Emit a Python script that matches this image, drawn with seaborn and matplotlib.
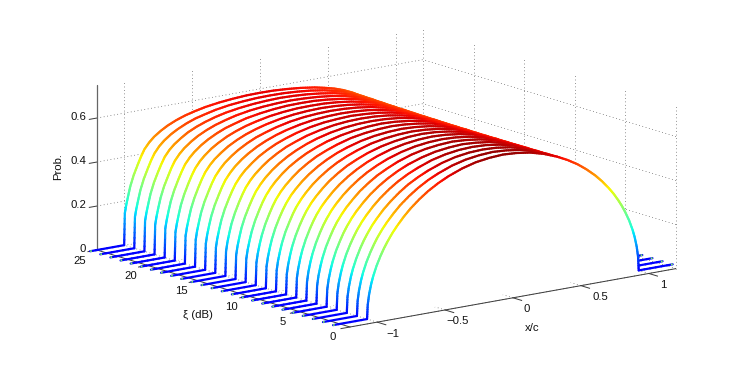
import numpy as np
import matplotlib
matplotlib.use("Agg")
import matplotlib.pyplot as plt
from matplotlib.colors import Normalize
from mpl_toolkits.mplot3d import proj3d
from mpl_toolkits.mplot3d.art3d import Line3DCollection, Poly3DCollection
import seaborn as sns

# ---- data ----
xi_levels = list(range(1, 26))
x_half = [0, .1, .2, .3, .4, .475, .55, .615, .68, .73, .78, .815, .85, .875, .9, .93, .955, .97, .985, .995]
# height of each arch (xi = 1..25) at each |x/c| in x_half
h_x000 = [.637,.635,.632,.630,.628,.626,.623,.621,.619,.616,.614,.612,.610,.607,.605,.603,.600,.598,.596,.593,.591,.589,.587,.584,.582]
h_x010 = [.633,.631,.629,.627,.624,.622,.620,.618,.616,.613,.611,.609,.607,.605,.603,.600,.598,.596,.594,.592,.590,.587,.585,.583,.581]
h_x020 = [.624,.622,.620,.618,.616,.614,.612,.610,.608,.606,.604,.602,.600,.599,.597,.595,.593,.591,.589,.587,.585,.583,.581,.579,.577]
h_x030 = [.607,.606,.604,.603,.601,.600,.598,.597,.595,.594,.592,.591,.589,.588,.586,.585,.583,.582,.580,.579,.577,.576,.574,.573,.571]
h_x040 = [.583,.582,.581,.580,.580,.579,.578,.577,.576,.575,.574,.573,.573,.572,.571,.570,.569,.568,.567,.566,.566,.565,.564,.563,.562]
h_x0475 = [.560,.560,.559,.559,.559,.558,.558,.558,.557,.557,.557,.556,.556,.556,.555,.555,.555,.554,.554,.554,.553,.553,.553,.552,.552]
h_x055 = [.532,.532,.533,.533,.533,.534,.534,.534,.535,.535,.535,.536,.536,.536,.537,.537,.537,.538,.538,.538,.539,.539,.539,.540,.540]
h_x0615 = [.502,.503,.504,.505,.506,.507,.508,.509,.510,.511,.512,.513,.514,.515,.516,.517,.518,.519,.520,.521,.522,.523,.524,.525,.526]
h_x068 = [.467,.469,.470,.472,.474,.476,.477,.479,.481,.482,.484,.486,.488,.489,.491,.493,.494,.496,.498,.499,.501,.503,.505,.506,.508]
h_x073 = [.435,.437,.440,.442,.444,.446,.449,.451,.453,.456,.458,.460,.463,.465,.467,.469,.472,.474,.476,.479,.481,.483,.485,.488,.490]
h_x078 = [.398,.401,.404,.407,.410,.413,.416,.418,.421,.424,.427,.430,.433,.436,.439,.442,.445,.448,.451,.453,.456,.459,.462,.465,.468]
h_x0815 = [.369,.372,.376,.379,.382,.385,.389,.392,.395,.398,.402,.405,.408,.411,.415,.418,.421,.424,.428,.431,.434,.437,.441,.444,.447]
h_x085 = [.335,.339,.342,.346,.349,.353,.356,.360,.363,.367,.370,.374,.377,.381,.385,.388,.392,.395,.399,.402,.406,.409,.413,.416,.420]
h_x0875 = [.308,.311,.315,.318,.322,.325,.329,.332,.335,.339,.342,.346,.349,.352,.356,.359,.363,.366,.370,.373,.376,.380,.383,.387,.390]
h_x090 = [.277,.280,.284,.287,.290,.293,.297,.300,.303,.306,.310,.313,.316,.319,.323,.326,.329,.332,.336,.339,.342,.345,.349,.352,.355]
h_x093 = [.234,.237,.240,.244,.247,.250,.253,.256,.259,.263,.266,.269,.272,.275,.278,.282,.285,.288,.291,.294,.297,.301,.304,.307,.310]
h_x0955 = [.189,.192,.195,.198,.201,.204,.207,.210,.213,.216,.219,.222,.225,.229,.232,.235,.238,.241,.244,.247,.250,.253,.256,.259,.262]
h_x097 = [.155,.158,.161,.163,.166,.169,.172,.175,.177,.180,.183,.186,.188,.191,.194,.197,.200,.202,.205,.208,.211,.214,.216,.219,.222]
h_x0985 = [.110,.113,.116,.119,.122,.125,.128,.130,.133,.136,.139,.142,.145,.148,.151,.154,.157,.160,.163,.165,.168,.171,.174,.177,.180]
h_x0995 = [.064,.067,.071,.074,.078,.081,.084,.088,.091,.094,.098,.101,.105,.108,.111,.115,.118,.121,.125,.128,.132,.135,.138,.142,.145]
x_edge = 1.0      # arch foot
x_tail = 1.25     # end of the flat tails

x_ticks = [-1, -0.5, 0, 0.5, 1]
x_ticklabels = ["\u22121", "\u22120.5", "0", "0.5", "1"]
xi_ticks = [0, 5, 10, 15, 20, 25]
z_ticks = [0, 0.2, 0.4, 0.6]
z_ticklabels = ["0", "0.2", "0.4", "0.6"]

# ---- style ----
sns.set_style("white")
plt.rcParams["font.family"] = ["Liberation Sans", "DejaVu Sans"]
FS = 8.2
TC = "#111111"
W, H = 747, 368
XL, YL, ZL = (-1.2, 1.2), (0, 25), (0, 0.75)
jet = matplotlib.colormaps["jet"]
norm = Normalize(-0.09, 0.65)

fig = plt.figure(figsize=(W / 100, H / 100), dpi=100)
ax = fig.add_axes([0, -0.5, 1, 2], projection="3d", computed_zorder=False)
ax.set_proj_type("ortho")
ax.view_init(elev=13.5, azim=-127.5)
ax.set_xlim(*XL); ax.set_ylim(*YL); ax.set_zlim(*ZL)
aspect = (410.9, 415.6, 169.7)
ax.set_box_aspect(aspect, zoom=1)
ax.set_axis_off()


def px(x, y, z):
    xp, yp, _ = proj3d.proj_transform(x, y, z, ax.get_proj())
    return ax.transData.transform((xp, yp))


# place the box so the floor corners land where they do in the reference
ax.apply_aspect()
a0, b0 = px(XL[0], YL[0], 0), px(XL[1], YL[0], 0)
zoom = (676 - 350) / (b0[0] - a0[0])
ax.set_box_aspect(aspect, zoom=zoom)
ax.apply_aspect()
a0 = px(XL[0], YL[0], 0)
ax.set_position([(350 - a0[0]) / W, -0.5 + ((H - 327) - a0[1]) / H, 1, 2])
ax.apply_aspect()

# ---- grid ----
grid = dict(color="#555555", lw=0.55, ls=(0, (1, 3.5)), zorder=1)
for xv in x_ticks:
    ax.plot([xv, xv], [YL[1], YL[1]], ZL, **grid)
    ax.plot([xv, xv], YL, [0, 0], **grid)
for yv in xi_ticks:
    ax.plot([XL[1], XL[1]], [yv, yv], ZL, **grid)
    ax.plot(XL, [yv, yv], [0, 0], **grid)
for zv in z_ticks:
    ax.plot(XL, [YL[1], YL[1]], [zv, zv], **grid)
    ax.plot([XL[1], XL[1]], YL, [zv, zv], **grid)

# ---- axes lines and ticks ----
axl = dict(color="#3a3a3a", lw=0.7, zorder=2, solid_capstyle="butt")
ax.plot(XL, [0, 0], [0, 0], **axl)
ax.plot([XL[0], XL[0]], YL, [0, 0], **axl)
ax.plot([XL[0], XL[0]], [YL[1], YL[1]], ZL, color="#666666", lw=0.9, zorder=2)
for xv in x_ticks:
    ax.plot([xv, xv], [0, -0.9], [0, 0], **axl)
for yv in xi_ticks:
    ax.plot([XL[0], XL[0] - 0.07], [yv, yv], [0, 0], **axl)
for zv in z_ticks:
    ax.plot([XL[0], XL[0] - 0.06], [YL[1], YL[1]], [zv, zv], **axl)

# ---- arches, back to front, each with a white face that hides what is behind ----
columns = [h_x000, h_x010, h_x020, h_x030, h_x040, h_x0475, h_x055, h_x0615,
           h_x068, h_x073, h_x078, h_x0815, h_x085, h_x0875, h_x090, h_x093,
           h_x0955, h_x097, h_x0985, h_x0995]
x_half_arr = np.array(x_half)
for i in range(len(xi_levels) - 1, -1, -1):
    xi = xi_levels[i]
    half = np.array([c[i] for c in columns])
    xs = np.r_[-x_tail, -x_edge, -x_half_arr[:0:-1], x_half_arr, x_edge, x_tail]
    hs = np.r_[0, 0, half[:0:-1], half, 0, 0]
    z0 = 10 + 3 * (len(xi_levels) - i)
    face = Poly3DCollection([list(zip(xs, np.full_like(xs, xi), hs))],
                            facecolors="white", edgecolors="none", zorder=z0)
    ax.add_collection3d(face)
    face.set_clip_on(False)
    segs, cols = [], []
    for j in range(len(xs) - 1):
        # gradient along each straight piece, as interpolated shading does
        tt = np.linspace(0, 1, 7)
        sx = xs[j] + (xs[j + 1] - xs[j]) * tt
        sh = hs[j] + (hs[j + 1] - hs[j]) * tt
        for k in range(len(tt) - 1):
            segs.append([(sx[k], xi, sh[k]), (sx[k + 1], xi, sh[k + 1])])
            cols.append(jet(norm(0.5 * (sh[k] + sh[k + 1]))))
    lc = Line3DCollection(segs, colors=cols, linewidths=1.6, zorder=z0 + 1,
                          capstyle="round")
    ax.add_collection3d(lc)
    lc.set_clip_on(False)
    for sgn in (-1, 1):
        ax.plot([sgn * x_tail, sgn * (x_tail - 0.012)], [xi, xi], [0, 0],
                color="#7fff5a", lw=1.2, zorder=z0 + 2, solid_capstyle="butt")

for art in ax.lines:
    art.set_clip_on(False)


# ---- text ----
def label(x, y, z, dx, dy, s):
    p = px(x, y, z)
    fig.text((p[0] + dx) / W, (p[1] - dy) / H, s, ha="center", va="center",
             fontsize=FS, color=TC)


for xv, s, dx in zip(x_ticks, x_ticklabels, [16, 13, 14, 19, 14]):
    label(xv, 0, 0, dx, 11.5, s)
for yv in xi_ticks:
    label(XL[0], yv, 0, -17, 10.5, str(yv))
for zv, s in zip(z_ticks, z_ticklabels):
    p = px(XL[0], YL[1], zv)
    fig.text((p[0] - 11) / W, (p[1] + 1) / H, s, ha="right", va="center",
             fontsize=FS, color=TC)

fig.text(532 / W, 1 - 328 / H, "x/c", ha="center", va="center", fontsize=FS, color=TC)
fig.text(198 / W, 1 - 315 / H, "\u03be (dB)", ha="center", va="center", fontsize=FS, color=TC)
fig.text(58 / W, 1 - 166 / H, "Prob.", ha="center", va="center", rotation=90, fontsize=FS, color=TC)

fig.savefig("out.png", dpi=100, facecolor="white")
